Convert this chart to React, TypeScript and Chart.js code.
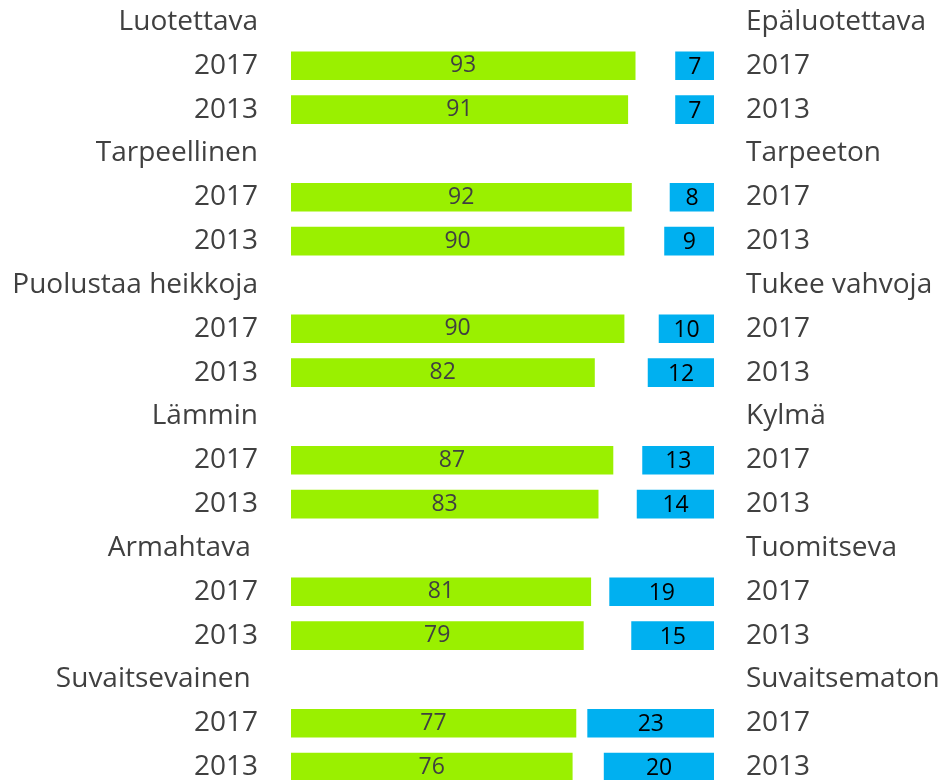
import React, { useEffect, useRef } from "react";
import { Chart, registerables } from "chart.js";

Chart.register(...registerables);

// ---- Data ----
const positiveTraits = ["Luotettava", "Tarpeellinen", "Puolustaa heikkoja", "Lämmin", "Armahtava ", "Suvaitsevainen "];
const negativeTraits = ["Epäluotettava", "Tarpeeton", "Tukee vahvoja", "Kylmä", "Tuomitseva", "Suvaitsematon"];
const years = ["2017", "2013"];
const positive2017 = [93, 92, 90, 87, 81, 77];
const positive2013 = [91, 90, 82, 83, 79, 76];
const negative2017 = [7, 8, 10, 13, 19, 23];
const negative2013 = [7, 9, 12, 14, 15, 20];

// ---- Build rows: header, 2017, 2013 per trait ----
const leftLabels: string[] = [];
const rightLabels: string[] = [];
const greenData: (number | null)[] = [];
const blueData: (number | null)[] = [];
positiveTraits.forEach((t, i) => {
  leftLabels.push(t, years[0], years[1]);
  rightLabels.push(negativeTraits[i], years[0], years[1]);
  greenData.push(null, positive2017[i], positive2013[i]);
  blueData.push(null, negative2017[i], negative2013[i]);
});

const GREEN = "#9AF000";
const BLUE = "#00B0F0";
const TEXT = "#404040";
const FONT = "'Open Sans', 'DejaVu Sans', sans-serif";

const labelColors = [TEXT, "#000000"];
const labelOffsets = [0, 1.5];

const valueLabels = {
  id: "valueLabels",
  afterDatasetsDraw(chart: any) {
    const ctx = chart.ctx;
    chart.data.datasets.forEach((ds: any, di: number) => {
      const meta = chart.getDatasetMeta(di);
      meta.data.forEach((el: any, i: number) => {
        const v = ds.data[i];
        if (v == null) return;
        const { x, y, base } = el.getProps(["x", "y", "base"], true);
        ctx.save();
        ctx.font = `23px ${FONT}`;
        ctx.fillStyle = labelColors[di];
        ctx.textAlign = "center";
        ctx.textBaseline = "middle";
        ctx.fillText(String(v), (x + base) / 2, y + labelOffsets[di]);
        ctx.restore();
      });
    });
  },
};

export default function App() {
  const ref = useRef<HTMLCanvasElement | null>(null);

  useEffect(() => {
    document.body.style.margin = "0";
    const chart = new Chart(ref.current as HTMLCanvasElement, {
      type: "bar",
      data: {
        labels: leftLabels,
        datasets: [
          {
            label: "Positive",
            data: greenData,
            backgroundColor: GREEN,
            xAxisID: "x",
            yAxisID: "y",
            barThickness: 28,
            grouped: false,
          } as any,
          {
            label: "Negative",
            data: blueData,
            backgroundColor: BLUE,
            xAxisID: "x2",
            yAxisID: "y",
            barThickness: 28,
            grouped: false,
          } as any,
        ],
      },
      options: {
        indexAxis: "y",
        animation: false,
        responsive: false,
        maintainAspectRatio: false,
        layout: { padding: 0 },
        plugins: {
          legend: { display: false },
          tooltip: { enabled: false },
        },
        scales: {
          x: {
            display: false,
            min: 0,
            max: 114.3,
          },
          x2: {
            display: false,
            reverse: true,
            min: 0,
            max: 77,
          },
          y: {
            type: "category",
            position: "left",
            offset: true,
            grid: { display: false, drawTicks: false },
            border: { display: false },
            ticks: {
              autoSkip: false,
              padding: 33,
              color: TEXT,
              font: { family: FONT, size: 28 },
            },
            afterFit(axis: any) {
              axis.width = 291;
              axis.paddingTop = 0;
              axis.paddingBottom = 0;
            },
          },
          y2: {
            type: "category",
            position: "right",
            labels: rightLabels,
            offset: true,
            grid: { display: false, drawTicks: false },
            border: { display: false },
            ticks: {
              autoSkip: false,
              padding: 32,
              color: TEXT,
              font: { family: FONT, size: 28 },
            },
            afterFit(axis: any) {
              axis.width = 232;
              axis.paddingTop = 0;
              axis.paddingBottom = 0;
            },
          },
        },
      } as any,
      plugins: [valueLabels],
    });
    return () => chart.destroy();
  }, []);

  return (
    <div style={{ position: "absolute", left: 0, top: 0, width: 946, height: 780, overflow: "hidden" }}>
      <canvas ref={ref} width={946} height={789} style={{ display: "block" }} />
    </div>
  );
}
